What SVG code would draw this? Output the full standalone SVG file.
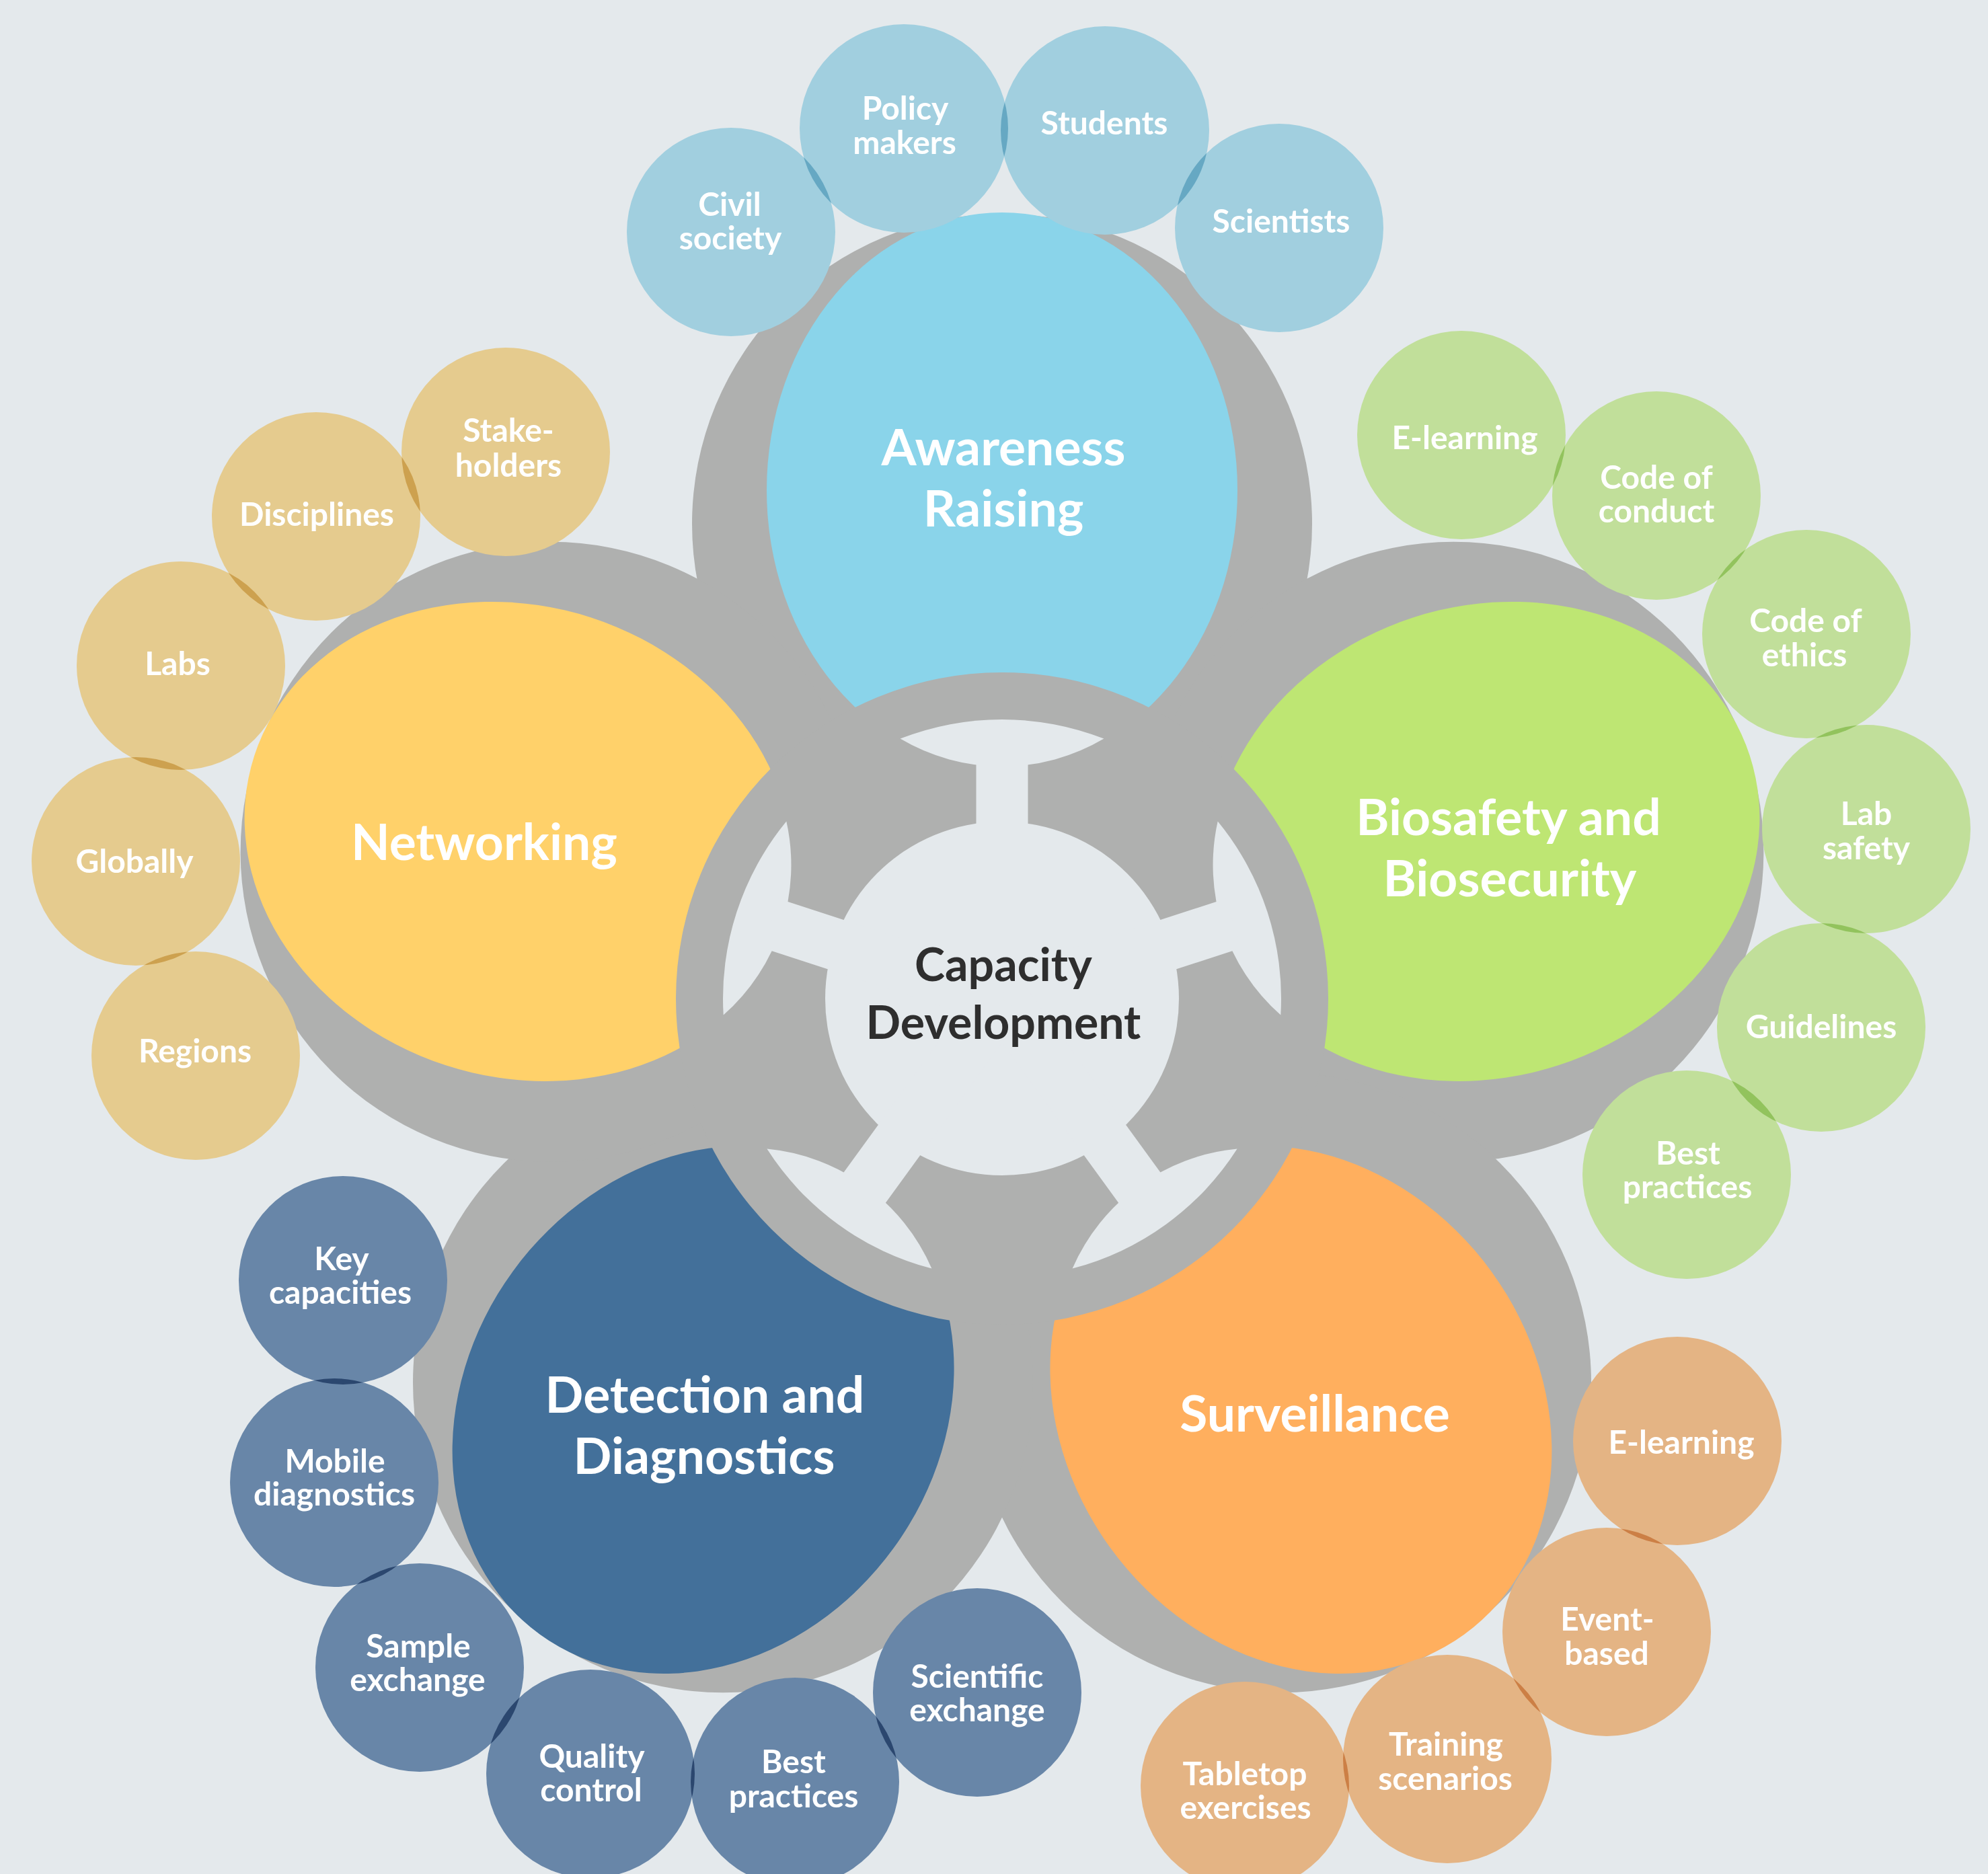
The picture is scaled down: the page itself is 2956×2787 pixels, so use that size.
<svg xmlns="http://www.w3.org/2000/svg" xmlns:xlink="http://www.w3.org/1999/xlink" width="2956" height="2787" viewBox="0 0 2956 2787">
<style>
.grey{fill:#AFB0AF}
.light{fill:#E4E9EC}
.sats{isolation:isolate}
.sat{mix-blend-mode:multiply}
.t{font-family:Lato,"Open Sans","Liberation Sans",sans-serif;font-weight:700;fill:#FFFFFF;text-anchor:middle}
.big{font-size:75px}
.small{font-size:48px}
.ctr{font-size:68px;fill:#2E2E2E}
.sb{fill:#A1CFDF}
.st{fill:#E5CB8E}
.sg{fill:#C1DF9A}
.sn{fill:#6886A8}
.so{fill:#E4B484}
</style>
<defs>
<g id="spoke">
<path d="M -151.4 -386.4 A 415 415 0 0 1 151.4 -386.4 A 297.5 297.5 0 0 1 -151.4 -386.4 Z"/>
<rect x="-38.5" y="-362" width="77" height="362"/>
</g>
</defs>
<rect width="2956" height="2787" fill="#E4E9EC"/>

<g id="symbol-frame" class="grey">
<circle cx="1490" cy="779" r="461"/>
<circle cx="2161.4" cy="1266.8" r="461"/>
<circle cx="1905" cy="2056.2" r="461"/>
<circle cx="1075" cy="2056.2" r="461"/>
<circle cx="818.6" cy="1266.8" r="461"/>
</g>

<g id="awareness-raising">
<ellipse cx="1490" cy="729" rx="413" ry="350" transform="rotate(-90 1490 729)" fill="#8AD4EA"/>
<text class="t big" x="1492" y="692">Awareness<tspan x="1492" dy="91">Raising</tspan></text>
</g>
<g id="biosafety-biosecurity">
<ellipse cx="2209" cy="1251.4" rx="413" ry="350" transform="rotate(-18 2209 1251.4)" fill="#BEE673"/>
<text class="t big" x="2243" y="1242">Biosafety and<tspan x="2245" dy="91">Biosecurity</tspan></text>
</g>
<g id="surveillance">
<ellipse cx="1934.4" cy="2096.6" rx="413" ry="350" transform="rotate(54 1934.4 2096.6)" fill="#FFAF5E"/>
<text class="t big" x="1955" y="2129">Surveillance</text>
</g>
<g id="detection-diagnostics">
<ellipse cx="1045.6" cy="2096.6" rx="413" ry="350" transform="rotate(126 1045.6 2096.6)" fill="#43709A"/>
<text class="t big" x="1048" y="2101">Detection and<tspan x="1047" dy="91">Diagnostics</tspan></text>
</g>
<g id="networking">
<ellipse cx="771" cy="1251.4" rx="413" ry="350" transform="rotate(198 771 1251.4)" fill="#FFD16A"/>
<text class="t big" x="720" y="1279">Networking</text>
</g>

<g id="capacity-development">
<circle class="grey" cx="1490" cy="1485" r="485"/>
<g class="light">
<circle cx="1490" cy="1485" r="263"/>
<use xlink:href="#spoke" transform="translate(1490 1485)"/>
<use xlink:href="#spoke" transform="translate(1490 1485) rotate(72)"/>
<use xlink:href="#spoke" transform="translate(1490 1485) rotate(144)"/>
<use xlink:href="#spoke" transform="translate(1490 1485) rotate(216)"/>
<use xlink:href="#spoke" transform="translate(1490 1485) rotate(288)"/>
</g>
<text class="t ctr" x="1492" y="1459">Capacity<tspan x="1492" dy="86">Development</tspan></text>
</g>

<g id="connectors"/>

<g id="satellites" class="sats">
<g id="sat-civil-society"><circle class="sat sb" cx="1087" cy="345" r="155"/><text class="t small" x="1085" y="321">Civil<tspan x="1086" dy="50">society</tspan></text></g>
<g id="sat-policy-makers"><circle class="sat sb" cx="1344" cy="191" r="155"/><text class="t small" x="1346" y="178">Policy<tspan x="1345" dy="51">makers</tspan></text></g>
<g id="sat-students"><circle class="sat sb" cx="1643" cy="194" r="155"/><text class="t small" x="1642" y="200">Students</text></g>
<g id="sat-scientists"><circle class="sat sb" cx="1902" cy="339" r="155"/><text class="t small" x="1905" y="346">Scientists</text></g>

<g id="sat-stakeholders"><circle class="sat st" cx="752" cy="672" r="155"/><text class="t small" x="756" y="657">Stake-<tspan x="756" dy="52">holders</tspan></text></g>
<g id="sat-disciplines"><circle class="sat st" cx="470" cy="768" r="155"/><text class="t small" x="471" y="782">Disciplines</text></g>
<g id="sat-labs"><circle class="sat st" cx="269" cy="990" r="155"/><text class="t small" x="264" y="1004">Labs</text></g>
<g id="sat-globally"><circle class="sat st" cx="202" cy="1281" r="155"/><text class="t small" x="200" y="1298">Globally</text></g>
<g id="sat-regions"><circle class="sat st" cx="291" cy="1570" r="155"/><text class="t small" x="290" y="1580">Regions</text></g>

<g id="sat-e-learning-bio"><circle class="sat sg" cx="2173" cy="647" r="155"/><text class="t small" x="2178" y="668">E-learning</text></g>
<g id="sat-code-of-conduct"><circle class="sat sg" cx="2463" cy="737" r="155"/><text class="t small" x="2463" y="727">Code of<tspan x="2463" dy="50">conduct</tspan></text></g>
<g id="sat-code-of-ethics"><circle class="sat sg" cx="2686" cy="943" r="155"/><text class="t small" x="2685" y="940">Code of<tspan x="2683" dy="51">ethics</tspan></text></g>
<g id="sat-lab-safety"><circle class="sat sg" cx="2775" cy="1233" r="155"/><text class="t small" x="2775" y="1227">Lab<tspan x="2775" dy="51">safety</tspan></text></g>
<g id="sat-guidelines"><circle class="sat sg" cx="2708" cy="1528" r="155"/><text class="t small" x="2708" y="1544">Guidelines</text></g>
<g id="sat-best-practices-bio"><circle class="sat sg" cx="2508" cy="1747" r="155"/><text class="t small" x="2510" y="1732">Best<tspan x="2509" dy="50">practices</tspan></text></g>

<g id="sat-key-capacities"><circle class="sat sn" cx="510" cy="1904" r="155"/><text class="t small" x="508" y="1889">Key<tspan x="506" dy="50">capacities</tspan></text></g>
<g id="sat-mobile-diagnostics"><circle class="sat sn" cx="497" cy="2205" r="155"/><text class="t small" x="498" y="2190">Mobile<tspan x="497" dy="49">diagnostics</tspan></text></g>
<g id="sat-sample-exchange"><circle class="sat sn" cx="624" cy="2480" r="155"/><text class="t small" x="622" y="2465">Sample<tspan x="621" dy="50">exchange</tspan></text></g>
<g id="sat-quality-control"><circle class="sat sn" cx="878" cy="2638" r="155"/><text class="t small" x="880" y="2629">Quality<tspan x="879" dy="50">control</tspan></text></g>
<g id="sat-best-practices-det"><circle class="sat sn" cx="1182" cy="2650" r="155"/><text class="t small" x="1180" y="2637">Best<tspan x="1180" dy="51">practices</tspan></text></g>
<g id="sat-scientific-exchange"><circle class="sat sn" cx="1453" cy="2517" r="155"/><text class="t small" x="1453" y="2510">Scientific<tspan x="1453" dy="50">exchange</tspan></text></g>

<g id="sat-e-learning-surv"><circle class="sat so" cx="2494" cy="2143" r="155"/><text class="t small" x="2500" y="2162">E-learning</text></g>
<g id="sat-event-based"><circle class="sat so" cx="2389" cy="2427" r="155"/><text class="t small" x="2390" y="2425">Event-<tspan x="2389" dy="51">based</tspan></text></g>
<g id="sat-training-scenarios"><circle class="sat so" cx="2152" cy="2616" r="155"/><text class="t small" x="2150" y="2611">Training<tspan x="2149" dy="51">scenarios</tspan></text></g>
<g id="sat-tabletop-exercises"><circle class="sat so" cx="1851" cy="2656" r="155"/><text class="t small" x="1851" y="2655">Tabletop<tspan x="1852" dy="50">exercises</tspan></text></g>
</g>
</svg>
